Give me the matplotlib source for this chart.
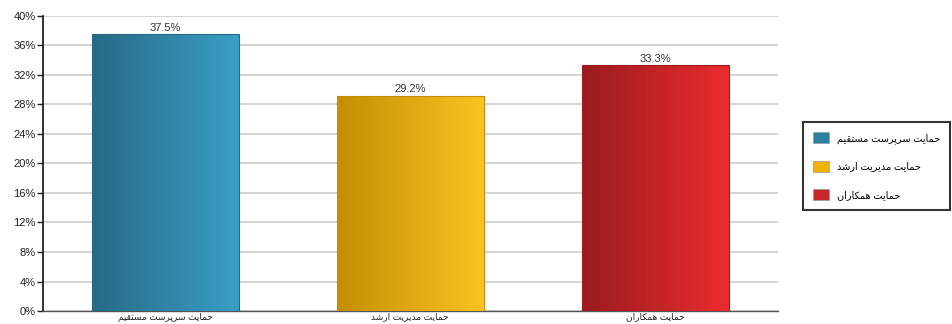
import numpy as np
import matplotlib
matplotlib.use("Agg")
import matplotlib.pyplot as plt
from matplotlib.colors import LinearSegmentedColormap
from matplotlib.patches import Patch
from matplotlib.ticker import FuncFormatter

plt.rcParams['font.family'] = ['Liberation Sans', 'DejaVu Sans']

# data
categories = ["حمایت سرپرست مستقیم", "حمایت مدیریت ارشد", "حمایت همکاران"]
values = [37.5, 29.2, 33.3]
grad_left = ["#266a86", "#c48e05", "#9a1c1f"]
grad_right = ["#3b9ec6", "#fac222", "#eb2c2f"]
legend_colors = ["#2e7ea0", "#f0b300", "#c8282a"]

# simple Persian shaping (matplotlib has no bidi/shaping)
FORMS = {
    'ح': ('\uFEA1', '\uFEA2', '\uFEA3', '\uFEA4'),
    'م': ('\uFEE1', '\uFEE2', '\uFEE3', '\uFEE4'),
    'ی': ('\uFBFC', '\uFBFD', '\uFBFE', '\uFBFF'),
    'ت': ('\uFE95', '\uFE96', '\uFE97', '\uFE98'),
    'س': ('\uFEB1', '\uFEB2', '\uFEB3', '\uFEB4'),
    'پ': ('\uFB56', '\uFB57', '\uFB58', '\uFB59'),
    'ق': ('\uFED5', '\uFED6', '\uFED7', '\uFED8'),
    'ش': ('\uFEB5', '\uFEB6', '\uFEB7', '\uFEB8'),
    'ه': ('\uFEE9', '\uFEEA', '\uFEEB', '\uFEEC'),
    'ک': ('\uFB8E', '\uFB8F', '\uFB90', '\uFB91'),
    'ن': ('\uFEE5', '\uFEE6', '\uFEE7', '\uFEE8'),
    'ا': ('\uFE8D', '\uFE8E'),
    'ر': ('\uFEAD', '\uFEAE'),
    'د': ('\uFEA9', '\uFEAA'),
}


def shape(text):
    out = []
    for i, ch in enumerate(text):
        if ch not in FORMS:
            out.append(ch)
            continue
        f = FORMS[ch]
        prev = text[i - 1] if i > 0 else ''
        nxt = text[i + 1] if i + 1 < len(text) else ''
        p = prev in FORMS and len(FORMS[prev]) == 4
        n = nxt in FORMS and len(f) == 4
        if p and n:
            out.append(f[3])
        elif p:
            out.append(f[1])
        elif n:
            out.append(f[2])
        else:
            out.append(f[0])
    return ''.join(out)[::-1]


labels = [shape(c) for c in categories]

fig = plt.figure(figsize=(9.53, 3.24), dpi=100)
ax = fig.add_axes([0.045, 0.04, 0.771, 0.911])

x = np.arange(len(categories))
bars = ax.bar(x, values, width=0.6, color='none', edgecolor='none', zorder=3)

for b, c1, c2 in zip(bars, grad_left, grad_right):
    bx, by = b.get_x(), b.get_y()
    w, h = b.get_width(), b.get_height()
    cmap = LinearSegmentedColormap.from_list('g', [c1, c2])
    im = ax.imshow(np.linspace(0, 1, 256).reshape(1, -1), cmap=cmap, aspect='auto',
                   extent=[bx, bx + w, by, by + h], zorder=3)
    im.set_clip_path(b)
    ax.add_patch(plt.Rectangle((bx, by), w, h, fill=False,
                               edgecolor=c1, lw=0.8, zorder=4))

for b, v in zip(bars, values):
    ax.text(b.get_x() + b.get_width() / 2, v + 0.2, f"{v}%", ha='center', va='bottom',
            fontsize=8, color='#333333', zorder=5)

ax.set_xlim(-0.5, 2.5)
ax.set_ylim(0, 40)
ax.set_yticks(np.arange(0, 41, 4))
ax.yaxis.set_major_formatter(FuncFormatter(lambda v, p: f"{int(v)}%"))
ax.set_xticks(x)
ax.set_xticklabels(labels, fontsize=6.5, color='#222222')
ax.tick_params(axis='x', length=0, pad=1)
ax.tick_params(axis='y', length=4, width=1, color='#222222', labelsize=8,
               labelcolor='#222222', pad=1)
ax.grid(axis='y', color='#c8c8c8', lw=1.1, zorder=0)
ax.set_axisbelow(True)
for s in ['top', 'right']:
    ax.spines[s].set_visible(False)
ax.spines['left'].set_color('#222222')
ax.spines['left'].set_linewidth(1.3)
ax.spines['bottom'].set_color('#555555')
ax.spines['bottom'].set_linewidth(1.0)

handles = [Patch(facecolor=c, edgecolor='#999999', lw=0.5) for c in legend_colors]
leg = fig.legend(handles, labels, loc='center left', bbox_to_anchor=(0.843, 0.488),
                 fontsize=7, frameon=True, fancybox=False, edgecolor='black',
                 handlelength=1.6, handleheight=1.4, labelspacing=1.75,
                 borderpad=1.0, handletextpad=0.9, borderaxespad=0)
leg.get_frame().set_linewidth(1.5)

fig.savefig("out.png", dpi=100)
